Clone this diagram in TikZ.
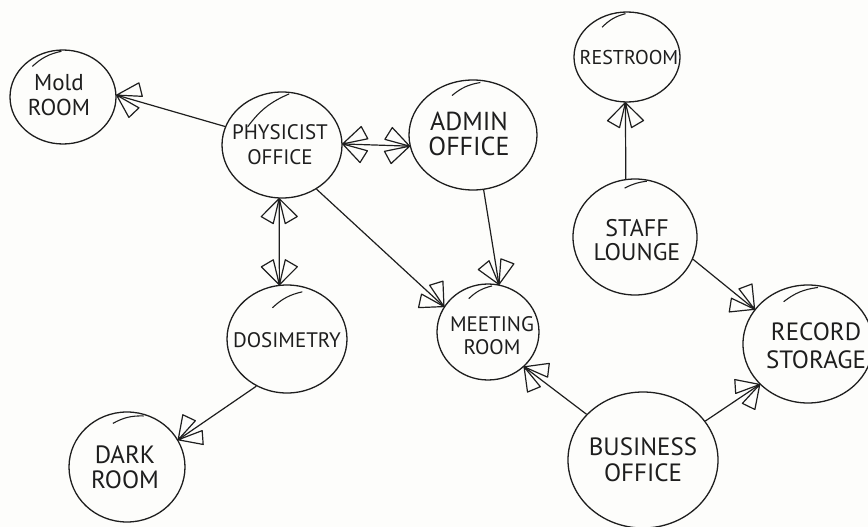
\documentclass[tikz,border=0pt]{standalone}
\usepackage{fontspec}
\setmainfont{PT Sans}
\usetikzlibrary{shapes.geometric,calc}
\definecolor{ink}{HTML}{1E1E1E}
\definecolor{paper}{HTML}{FDFDFB}
\newcommand\fsz[2]{\fontsize{#1}{#2}\selectfont}
\pgfdeclarearrow{
  name = HandFlag,
  setup code = {
    \pgfarrowssettipend{0pt}
    \pgfarrowssetlineend{0pt}
    \pgfarrowssetvisualbackend{-26pt}
    \pgfarrowssetbackend{-26pt}
    \pgfarrowshullpoint{0pt}{0pt}
    \pgfarrowshullpoint{-26pt}{19pt}
    \pgfarrowshullpoint{-26pt}{-19pt}
  },
  drawing code = {
    \pgfsetdash{}{0pt}
    \pgfsetroundjoin
    \pgfpathmoveto{\pgfpointorigin}
    \pgfpathlineto{\pgfpoint{-25pt}{6pt}}
    \pgfpathlineto{\pgfpoint{-18pt}{18pt}}
    \pgfpathclose
    \pgfpathmoveto{\pgfpointorigin}
    \pgfpathlineto{\pgfpoint{-25pt}{-6pt}}
    \pgfpathlineto{\pgfpoint{-18pt}{-18pt}}
    \pgfpathclose
    \pgfusepathqstroke
  }
}
\tikzset{
  room/.style={ellipse, draw=ink, line width=1.3pt, inner sep=0pt},
  lbl/.style={align=center, text=ink, inner sep=0pt},
  link/.style={draw=ink, line width=1.2pt},
  oneway/.style={link, -{HandFlag}},
  twoway/.style={link, {HandFlag}-{HandFlag}},
  sketchline/.style={draw=ink, line width=1.1pt},
}
\begin{document}
\begin{tikzpicture}[x=1pt,y=-1pt]
\fill[paper] (0,0) rectangle (868,527);
\useasboundingbox (0,0) rectangle (868,527);

\node[room, minimum width=106pt, minimum height=94pt,
  label={[lbl, font=\fsz{23}{25}, xshift=-4pt, yshift=2pt]center:Mold\\ROOM}] (mold) at (63,97) {};
\node[room, minimum width=120pt, minimum height=106pt,
  label={[lbl, font=\fsz{21}{25}, xshift=-2pt]center:PHYSICIST\\OFFICE}] (phys) at (282,145) {};
\node[room, minimum width=128pt, minimum height=110pt,
  label={[lbl, font=\fsz{26}{25}, xshift=-4pt, yshift=1pt]center:ADMIN\\OFFICE}] (admin) at (473,135) {};
\node[room, minimum width=106pt, minimum height=90pt,
  label={[lbl, font=\fsz{20}{24}, xshift=2pt, yshift=-1pt]center:RESTROOM}] (rest) at (627,57) {};
\node[room, minimum width=124pt, minimum height=116pt,
  label={[lbl, font=\fsz{24}{24}, xshift=2pt, yshift=-3pt]center:STAFF\\LOUNGE}] (staff) at (635,237) {};
\node[room, minimum width=120pt, minimum height=108pt,
  label={[lbl, font=\fsz{21}{24}, yshift=-1pt]center:DOSIMETRY}] (dos) at (287,339) {};
\node[room, minimum width=102pt, minimum height=96pt,
  label={[lbl, font=\fsz{21}{23}, xshift=4pt, yshift=-4pt]center:MEETING\\ROOM}] (meet) at (488,332) {};
\node[room, minimum width=130pt, minimum height=118pt,
  label={[lbl, font=\fsz{25}{28}, xshift=8pt, yshift=-2pt]center:RECORD\\STORAGE}] (rec) at (808,344) {};
\node[room, minimum width=116pt, minimum height=110pt,
  label={[lbl, font=\fsz{25}{25}, xshift=-2pt]center:DARK\\ROOM}] (dark) at (127,467) {};
\node[room, minimum width=150pt, minimum height=136pt,
  label={[lbl, font=\fsz{25}{26}]center:BUSINESS\\OFFICE}] (bus) at (643,460) {};

% second pencil strokes along the tops of the bubbles
\draw[sketchline] ($(mold.center)!0.86!(mold.135)$) to[bend left=15] ($(mold.center)!0.96!(mold.92)$);
\draw[sketchline] ($(phys.center)!0.66!(phys.152)$) to[bend left=15] ($(phys.center)!0.96!(phys.82)$);
\draw[sketchline] ($(admin.center)!0.78!(admin.118)$) to[bend left=15] ($(admin.center)!0.95!(admin.82)$);
\draw[sketchline] ($(rest.center)!0.80!(rest.130)$) to[bend left=15] ($(rest.center)!0.95!(rest.92)$);
\draw[sketchline] ($(staff.center)!0.85!(staff.102)$) to[bend left=10] ($(staff.center)!0.97!(staff.78)$);
\draw[sketchline] ($(dos.center)!0.62!(dos.115)$) to[bend left=15] ($(dos.center)!0.90!(dos.72)$);
\draw[sketchline] ($(meet.center)!0.78!(meet.120)$) to[bend left=15] ($(meet.center)!0.95!(meet.85)$);
\draw[sketchline] ($(rec.center)!0.80!(rec.120)$) to[bend left=15] ($(rec.center)!0.96!(rec.80)$);
\draw[sketchline] ($(dark.center)!0.82!(dark.108)$) to[bend left=15] ($(dark.center)!0.96!(dark.72)$);

\draw[oneway] (phys.162) -- (mold.2);
\draw[twoway] (phys.1) -- (admin.190);
\draw[twoway] (phys.267) -- (dos.98);
\draw[oneway] (phys.308) -- (meet.150);
\draw[oneway] (admin.281) -- (meet.77);
\draw[oneway] (staff.99) -- (rest.268);
\draw[oneway] (staff.339) -- (rec.147);
\draw[oneway] (bus.141) -- (meet.316);
\draw[oneway] (bus.32) -- (rec.220);
\draw[oneway] (dos.237) -- (dark.28);
\end{tikzpicture}
\end{document}
